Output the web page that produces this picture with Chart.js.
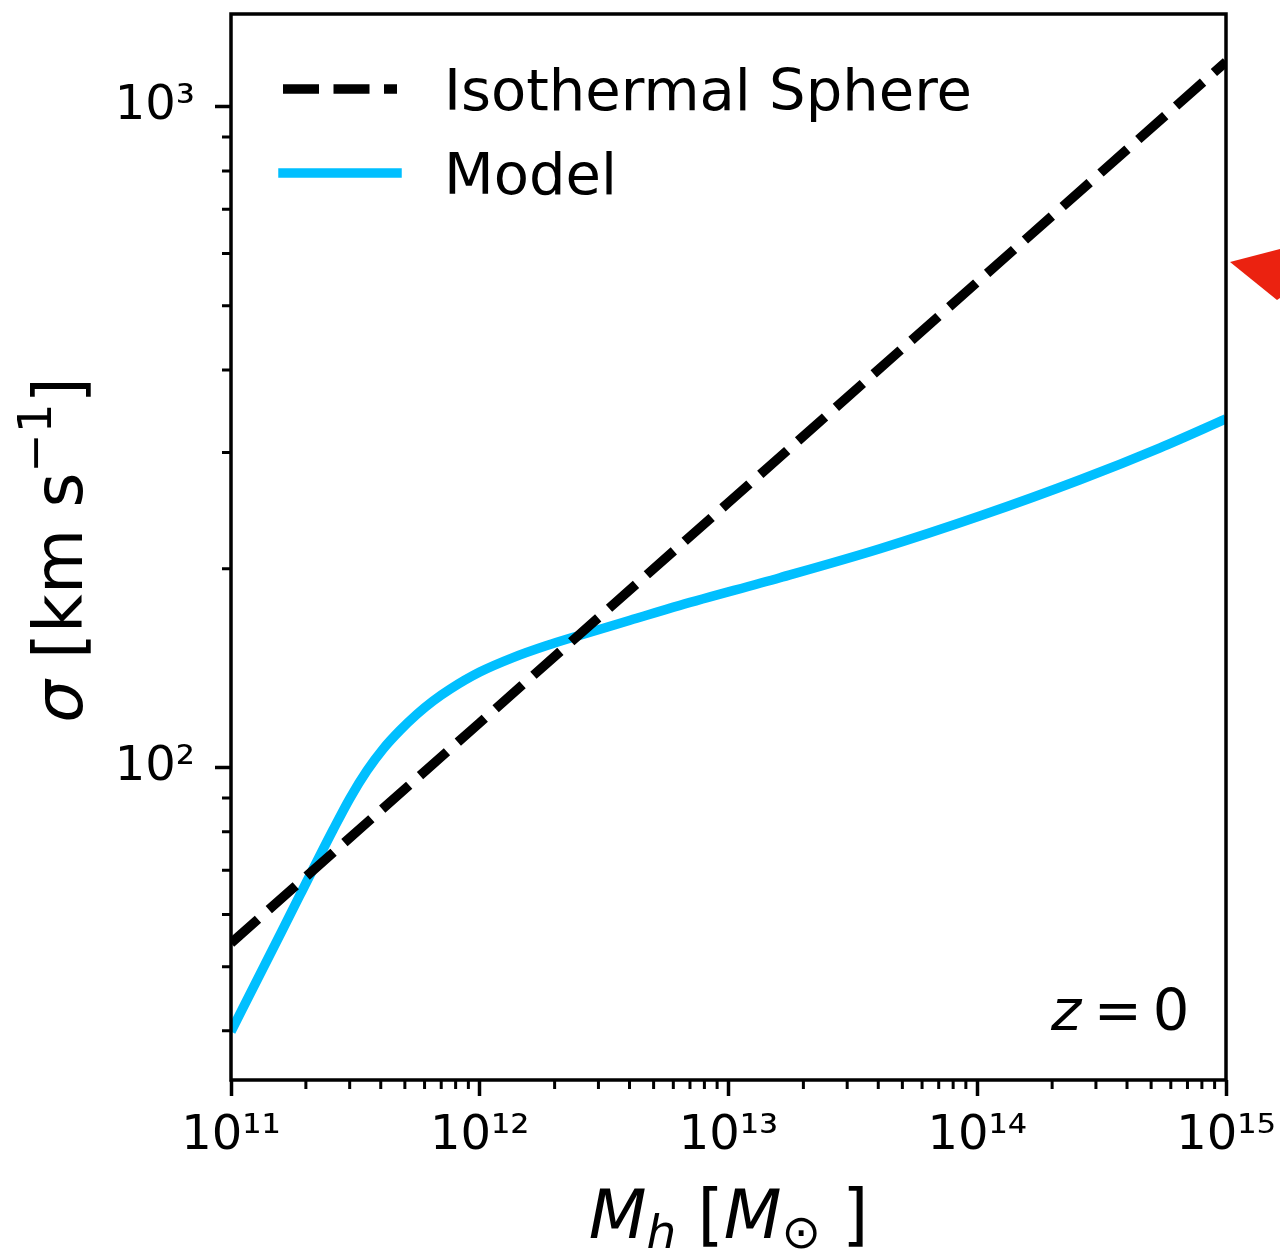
<!DOCTYPE html>
<html>
<head>
<meta charset="utf-8">
<script src="https://cdn.jsdelivr.net/npm/chart.js@4"></script>
<style>
  html, body { margin: 0; padding: 0; background: #fff; }
  #wrap { width: 1280px; height: 1251px; }
</style>
</head>
<body>
<div id="wrap"><canvas id="sigmaChart"></canvas></div>
<script>
// halo mass [M_sun] and velocity dispersion [km/s]
const modelMass = [1.00e11, 1.37e11, 1.89e11, 2.57e11, 3.01e11, 3.52e11, 4.08e11, 4.78e11,
                   5.59e11, 6.49e11, 7.59e11, 1.00e12, 1.36e12, 1.86e12, 2.53e12, 4.02e12,
                   6.38e12, 1.61e13, 4.06e13, 1.03e14, 2.59e14, 5.43e14, 1.00e15];
const modelSigma = [39.9, 50.4, 64.1, 80.5, 90.0, 99.0, 106.7, 113.9,
                    120.5, 126.2, 131.5, 139.6, 146.8, 153.1, 158.7, 167.2,
                    176.1, 193.9, 214.5, 240.6, 272.8, 304.9, 337.3];
const isoMass = [1e11, 1e12, 1e13, 1e14, 1e15];
const isoSigma = [54.3, 117, 252, 543, 1170];

const xTicks = [1e11, 1e12, 1e13, 1e14, 1e15];
const yTicks = [1e2, 1e3];
const seriesNames = ["Isothermal Sphere", "Model"];

const FONT = "'DejaVu Sans', sans-serif";
const SUP = { "0": "⁰", "1": "¹", "2": "²", "3": "³", "4": "⁴", "5": "⁵", "6": "⁶", "7": "⁷", "8": "⁸", "9": "⁹" };
const powLabel = v => "10" + String(Math.round(Math.log10(v))).split("").map(c => SUP[c]).join("");

function pairs(xs, ys) {
    return xs.map((x, i) => ({ x, y: ys[i] }));
}

function drawRuns(ctx, runs, x, y) {
    let cx = x;
    runs.forEach(r => {
        ctx.font = (r.italic ? "italic " : "") + r.size + "px " + FONT;
        ctx.fillText(r.text, cx, y + (r.dy || 0));
        cx += ctx.measureText(r.text).width;
    });
}
function runsWidth(ctx, runs) {
    let w = 0;
    runs.forEach(r => {
        ctx.font = (r.italic ? "italic " : "") + r.size + "px " + FONT;
        w += ctx.measureText(r.text).width;
    });
    return w;
}

const decorations = {
    id: "decorations",
    afterDraw(chart) {
        const { ctx, chartArea: a, scales } = chart;
        ctx.save();

        // frame
        ctx.strokeStyle = "#000";
        ctx.lineWidth = 3.5;
        ctx.strokeRect(a.left, a.top, a.right - a.left, a.bottom - a.top);

        // minor ticks
        ctx.lineWidth = 3;
        ctx.beginPath();
        for (let d = 11; d < 15; d++) {
            for (let k = 2; k <= 9; k++) {
                const px = scales.x.getPixelForValue(k * Math.pow(10, d));
                ctx.moveTo(px, a.bottom);
                ctx.lineTo(px, a.bottom + 9);
            }
        }
        [40, 50, 60, 70, 80, 90, 200, 300, 400, 500, 600, 700, 800, 900].forEach(v => {
            const py = scales.y.getPixelForValue(v);
            if (py < a.top || py > a.bottom) return;
            ctx.moveTo(a.left - 9, py);
            ctx.lineTo(a.left, py);
        });
        ctx.stroke();

        // legend
        const rows = [a.top + 75, a.top + 159];
        chart.data.datasets.forEach((ds, i) => {
            ctx.strokeStyle = ds.borderColor;
            ctx.lineWidth = ds.borderWidth;
            ctx.setLineDash(ds.borderDash || []);
            ctx.lineCap = ds.borderDash ? "butt" : "square";
            ctx.beginPath();
            ctx.moveTo(a.left + 52, rows[i]);
            ctx.lineTo(a.left + 166, rows[i]);
            ctx.stroke();
            ctx.setLineDash([]);
            ctx.fillStyle = "#000";
            ctx.font = "57.6px " + FONT;
            ctx.textBaseline = "alphabetic";
            ctx.fillText(ds.label, a.left + 213, rows[i] + 21);
        });
        ctx.lineCap = "butt";

        // redshift label
        ctx.fillStyle = "#000";
        ctx.textAlign = "center";
        ctx.font = "italic 57.6px " + FONT;
        ctx.fillText("z", a.right - 160, a.bottom - 50);
        ctx.font = "57.6px " + FONT;
        ctx.fillText("=", a.right - 108, a.bottom - 50);
        ctx.fillText("0", a.right - 55, a.bottom - 50);
        ctx.textAlign = "left";

        // x axis title
        const xRuns = [
            { text: "M", size: 67, italic: true },
            { text: "h", size: 47, italic: true, dy: 10 },
            { text: " [", size: 67 },
            { text: "M", size: 67, italic: true },
            { text: "⊙", size: 47, dy: 10 },
            { text: " ]", size: 67 }
        ];
        const xw = runsWidth(ctx, xRuns);
        drawRuns(ctx, xRuns, (a.left + a.right) / 2 - xw / 2, 1238);

        // y axis title
        const yRuns = [
            { text: "σ", size: 67, italic: true },
            { text: " [km s", size: 67 },
            { text: "−1", size: 47, dy: -31 },
            { text: "]", size: 67 }
        ];
        const yw = runsWidth(ctx, yRuns);
        ctx.translate(82, 550);
        ctx.rotate(-Math.PI / 2);
        drawRuns(ctx, yRuns, -yw / 2, 0);
        ctx.setTransform(1, 0, 0, 1, 0, 0);

        // red marker at the right edge
        ctx.fillStyle = "#EB2210";
        ctx.beginPath();
        ctx.moveTo(1230, 262);
        ctx.lineTo(1280, 249);
        ctx.lineTo(1280, 298);
        ctx.lineTo(1277, 300);
        ctx.closePath();
        ctx.fill();

        ctx.restore();
    }
};

new Chart(document.getElementById("sigmaChart"), {
    type: "line",
    data: {
        datasets: [
            {
                label: seriesNames[0],
                data: pairs(isoMass, isoSigma),
                borderColor: "#000000",
                borderWidth: 9.5,
                borderDash: [36, 14.5],
                pointRadius: 0,
                tension: 0
            },
            {
                label: seriesNames[1],
                data: pairs(modelMass, modelSigma),
                borderColor: "#00BFFF",
                borderWidth: 9.5,
                pointRadius: 0,
                cubicInterpolationMode: "monotone"
            }
        ]
    },
    options: {
        responsive: true,
        maintainAspectRatio: false,
        animation: false,
        layout: { padding: { top: 14, right: 54, left: 0, bottom: 0 } },
        plugins: {
            legend: { display: false },
            tooltip: { enabled: false }
        },
        scales: {
            x: {
                type: "logarithmic",
                min: 1e11,
                max: 1e15,
                border: { display: false },
                grid: { drawOnChartArea: false, tickLength: 16, tickWidth: 3.5, tickColor: "#000" },
                ticks: {
                    color: "#000",
                    font: { family: FONT, size: 48 },
                    padding: 12,
                    maxRotation: 0,
                    autoSkip: false,
                    callback: v => powLabel(v)
                },
                afterBuildTicks: s => { s.ticks = xTicks.map(value => ({ value })); },
                afterFit: s => { s.height = 171; s.paddingLeft = 0; s.paddingRight = 0; }
            },
            y: {
                type: "logarithmic",
                min: 33.7,
                max: 1382,
                border: { display: false },
                grid: { drawOnChartArea: false, tickLength: 16, tickWidth: 3.5, tickColor: "#000" },
                ticks: {
                    color: "#000",
                    font: { family: FONT, size: 48 },
                    padding: 20,
                    autoSkip: false,
                    callback: v => powLabel(v)
                },
                afterBuildTicks: s => { s.ticks = yTicks.map(value => ({ value })); },
                afterFit: s => { s.width = 231; s.paddingTop = 0; s.paddingBottom = 0; }
            }
        }
    },
    plugins: [decorations]
});
</script>
</body>
</html>
